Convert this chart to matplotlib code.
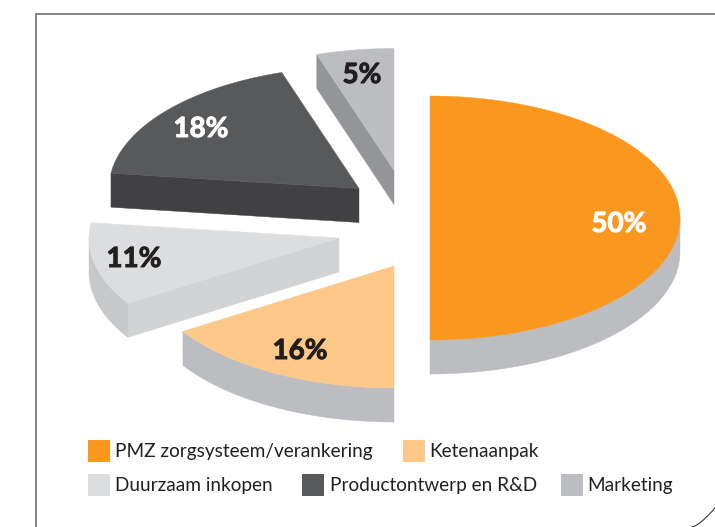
import numpy as np
import matplotlib
matplotlib.use("Agg")
import matplotlib.pyplot as plt
import matplotlib.patheffects as pe
from matplotlib.patches import Polygon, Rectangle

categories = ["PMZ zorgsysteem/verankering", "Ketenaanpak", "Duurzaam inkopen",
              "Productontwerp en R&D", "Marketing"]
values = [50, 16, 11, 18, 5]
value_labels = ["50%", "16%", "11%", "18%", "5%"]

top_colors = ["#F9971E", "#FEC888", "#DCDDDF", "#58595B", "#BBBDC0"]
radial_colors = ["#BBBDC0", "#BBBDC0", "#D1D3D4", "#414042", "#939598"]
rim_colors = ["#BBBDC0", "#BBBDC0", "#C7C8CA", "#414042", "#939598"]
label_colors = ["white", "#231F20", "#231F20", "white", "#231F20"]

apex_x = [430, 394, 339, 359, 394]
apex_y = [218, 266, 238, 188.5, 170.5]
label_x = [619, 300, 134, 201, 362]
label_y = [224, 351, 259, 129, 75]
swatch_x = [88, 403, 88, 302, 561]
swatch_y = [440, 440, 474, 474, 474]
text_x = [115, 429, 115, 330, 587]

RX, RY, DEPTH = 250, 122, 34
TEXT = ["Lato", "DejaVu Sans"]

fig = plt.figure(figsize=(7.15, 5.27), dpi=100)
ax = fig.add_axes([0, 0, 1, 1])
ax.set_xlim(0, 715)
ax.set_ylim(527, 0)
ax.axis("off")

# frame
ax.plot([35.5, 35.5, 715], [527, 14, 14], color="#6D6E71", lw=1.2, solid_joinstyle="miter")
u = np.linspace(0, 1, 40)
ax.plot(692 + 23 * u, 527 - 19 * u ** 1.4, color="#231F20", lw=0.7)


def pts(cx, cy, deg):
    a = np.radians(deg)
    return np.column_stack([cx + RX * np.sin(a), cy - RY * np.cos(a)])


def face(xy, color, z):
    ax.add_patch(Polygon(xy, closed=True, facecolor=color, edgecolor=color, lw=0.3, zorder=z))


edges = np.concatenate([[0], np.cumsum(values)]) * 3.6
for i in range(len(values)):
    a0, a1 = edges[i], edges[i + 1]
    cx, cy = apex_x[i], apex_y[i]
    down = np.array([0, DEPTH])
    # radial side face of the wedge's starting edge
    if 180 < a0 < 360:
        p = pts(cx, cy, a0)[0]
        face([(cx, cy), p, p + down, (cx, cy + DEPTH)], radial_colors[i], 2)
    # curved rim on the front half
    lo, hi = max(a0, 90), min(a1, 270)
    if hi > lo:
        arc = pts(cx, cy, np.linspace(lo, hi, 100))
        face(np.vstack([arc, (arc + down)[::-1]]), rim_colors[i], 2)
    # top surface
    arc = pts(cx, cy, np.linspace(a0, a1, 200))
    face(np.vstack([[(cx, cy)], arc]), top_colors[i], 3)
    ax.text(label_x[i], label_y[i], value_labels[i], color=label_colors[i], fontsize=20,
            fontweight="bold", family=TEXT, ha="center", va="center", zorder=4,
            path_effects=[pe.withStroke(linewidth=0.7, foreground=label_colors[i])])
    # legend
    ax.add_patch(Rectangle((swatch_x[i], swatch_y[i]), 22, 22, facecolor=top_colors[i],
                           edgecolor="none", zorder=3))
    ax.text(text_x[i], swatch_y[i] + 12, categories[i], color="#231F20", fontsize=13.7,
            family=TEXT, ha="left", va="center", zorder=4)

fig.savefig("out.png", dpi=100)
